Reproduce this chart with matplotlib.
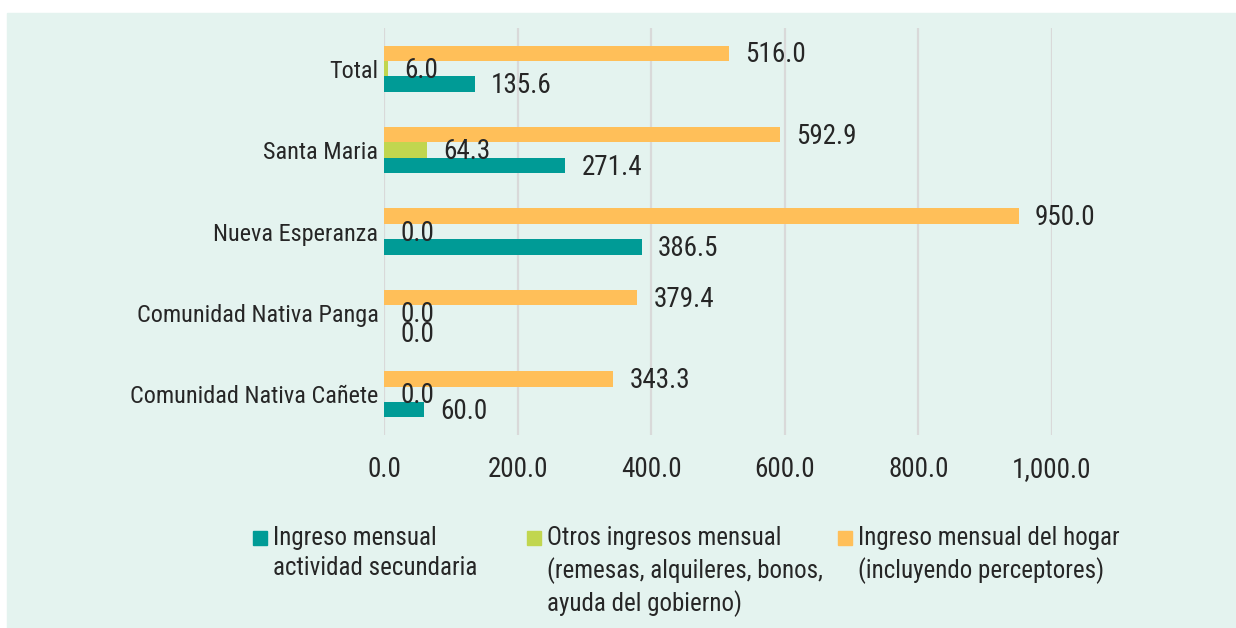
import matplotlib.pyplot as plt
from matplotlib import font_manager
from matplotlib.patches import Rectangle
import numpy as np

# pick a narrow family if one is installed
names = {f.name for f in font_manager.fontManager.ttflist}
narrow = [n for n in ["Roboto Condensed", "Liberation Sans Narrow", "Open Sans Condensed",
                      "DejaVu Sans Condensed"] if n in names]
fam = narrow[0] if narrow else "Roboto"
plt.rcParams['font.family'] = [fam, 'DejaVu Sans']

categories = ["Total", "Santa Maria", "Nueva Esperanza",
              "Comunidad Nativa Panga", "Comunidad Nativa Cañete"]
secundaria = [135.6, 271.4, 386.5, 0.0, 60.0]
otros = [6.0, 64.3, 0.0, 0.0, 0.0]
hogar = [516.0, 592.9, 950.0, 379.4, 343.3]
series_names = ["Ingreso mensual\nactividad secundaria",
                "Otros ingresos mensual\n(remesas, alquileres, bonos,\nayuda del gobierno)",
                "Ingreso mensual del hogar\n(incluyendo perceptores)"]
ticks = [0, 200, 400, 600, 800, 1000]

bg = "#E4F3EF"
colors = ["#009B96", "#C1D64F", "#FFBF59"]
txt = "#262626"

fig = plt.figure(figsize=(12.36, 6.28), dpi=100)
fig.patches.append(Rectangle((7 / 1236, 0), 1 - 7 / 1236, 1 - 13 / 628,
                             transform=fig.transFigure, color=bg, zorder=-10))
ax = fig.add_axes([384 / 1236, 1 - 435 / 628, (1052 - 384) / 1236, (435 - 28) / 628])
ax.set_facecolor(bg)

y = np.arange(len(categories))
h = 0.19
# teal at bottom of each group, orange on top (axis inverted)
for vals, off, c in [(secundaria, h, colors[0]), (otros, 0, colors[1]), (hogar, -h, colors[2])]:
    ax.barh(y + off, vals, height=h, color=c, zorder=3)
    for i, (yi, v) in enumerate(zip(y + off, vals)):
        dy = 0.02
        # push the teal label down a bit when it sits on the green one
        if vals is secundaria and v == otros[i]:
            dy += 0.06
        ax.text(v + 24, yi + dy, f"{v:,.1f}", va="center", ha="left",
                fontsize=19.5, color=txt, zorder=4)

ax.set_ylim(len(categories) - 0.5, -0.5)
ax.set_xlim(0, 1000)
ax.set_yticks(y)
ax.set_yticklabels(categories, fontsize=17.5, color=txt)
ax.set_xticks(ticks)
ax.set_xticklabels([f"{t:,.1f}" for t in ticks], fontsize=19.5, color=txt)
ax.tick_params(axis="both", length=0)
ax.tick_params(axis="x", pad=15)
ax.tick_params(axis="y", pad=4)
ax.grid(axis="x", color="#D9D9D9", linewidth=1.6, zorder=0)
for s in ax.spines.values():
    s.set_visible(False)

# legend drawn by hand, square markers next to multi-line text
leg_x = [253, 527, 838]
for lx, name, c in zip(leg_x, series_names, colors):
    fig.patches.append(Rectangle((lx / 1236, 1 - 545 / 628), 14 / 1236, 14 / 628,
                                 transform=fig.transFigure, color=c))
    fig.text((lx + 20) / 1236, 1 - 526 / 628, name, ha="left", va="top",
             fontsize=18, color=txt, linespacing=1.32)

fig.savefig("out.png", dpi=100)
